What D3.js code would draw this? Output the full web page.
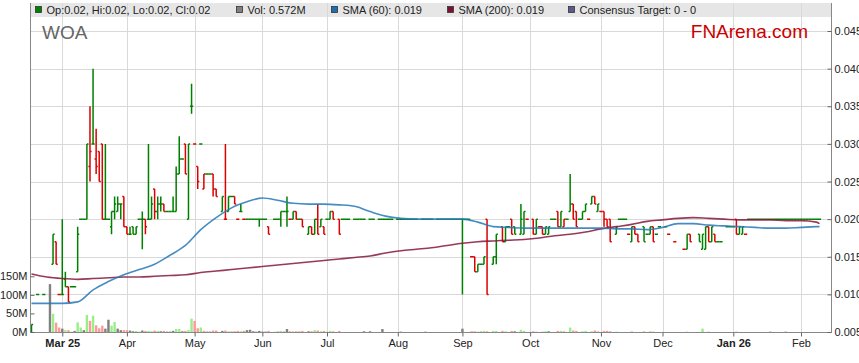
<!DOCTYPE html>
<html>
<head>
<meta charset="utf-8">
<script src="https://cdnjs.cloudflare.com/ajax/libs/d3/7.8.5/d3.min.js"></script>
<style>
  body { margin: 0; background: #fff; }
  svg { display: block; font-family: "Liberation Sans", Arial, sans-serif; }
</style>
</head>
<body>
<div id="chart"></div>
<script>
var svgWidth = 859;
var svgHeight = 363;
var plot = {left: 31, right: 831, top: 3, bottom: 332};

// day = weekday number counted from Mon 17 Feb 2025
// [day, open, high, low, close]
var ohlc = [
  [0,.005,.006,.005,.006],[2,.010,.010,.010,.010],[4,.010,.010,.010,.010],
  [7,.014,.018,.014,.018],[8,.017,.017,.014,.014],[9,.010,.010,.010,.010],
  [10,.010,.020,.010,.010],[11,.012,.013,.011,.011],[12,.011,.011,.009,.009],
  [13,.011,.011,.011,.011],[14,.011,.011,.011,.011],[15,.013,.019,.013,.018],
  [16,.020,.020,.020,.020],[17,.020,.020,.020,.020],[18,.020,.030,.020,.030],
  [19,.027,.035,.025,.029],[20,.030,.040,.030,.030],[21,.028,.032,.026,.027],
  [22,.029,.029,.025,.025],[23,.030,.030,.020,.020],[24,.020,.030,.020,.020],
  [25,.020,.020,.020,.020],[26,.019,.021,.018,.021],[27,.021,.023,.020,.022],
  [28,.021,.023,.021,.022],[29,.022,.022,.020,.022],[30,.023,.023,.019,.019],
  [31,.019,.019,.018,.018],[32,.018,.019,.018,.018],[33,.019,.019,.018,.018],
  [34,.018,.019,.018,.019],[35,.020,.020,.020,.020],[36,.020,.021,.016,.020],
  [37,.020,.020,.018,.019],[38,.020,.030,.020,.020],[39,.020,.023,.020,.022],
  [40,.024,.024,.020,.021],[41,.021,.023,.020,.022],[42,.022,.023,.021,.022],
  [43,.022,.022,.021,.021],[44,.021,.021,.021,.021],[45,.021,.021,.021,.021],
  [46,.021,.023,.021,.021],[47,.021,.027,.021,.026],[48,.026,.031,.026,.028],
  [49,.028,.028,.028,.028],[50,.030,.030,.026,.026],[51,.020,.030,.020,.030],
  [52,.035,.038,.034,.035],[53,.030,.030,.030,.030],[54,.027,.027,.024,.025],
  [55,.030,.030,.030,.030],[56,.024,.026,.024,.026],[57,.026,.026,.026,.026],
  [58,.026,.026,.026,.026],[59,.026,.026,.023,.024],[60,.024,.024,.023,.023],
  [62,.021,.023,.021,.023],[63,.020,.030,.020,.020],[64,.021,.023,.021,.023],
  [65,.023,.023,.023,.023],[66,.023,.023,.022,.022],[67,.020,.020,.020,.020],
  [68,.021,.022,.021,.021],[69,.020,.020,.020,.020],[70,.020,.020,.020,.020],
  [71,.020,.020,.020,.020],[72,.020,.020,.020,.020],[73,.020,.020,.020,.020],
  [74,.020,.020,.019,.020],[75,.020,.020,.020,.020],[76,.020,.020,.020,.020],
  [77,.019,.019,.018,.018],[79,.020,.020,.020,.020],[80,.020,.020,.020,.020],
  [81,.020,.021,.019,.021],[82,.021,.021,.021,.021],[83,.021,.023,.019,.021],
  [84,.020,.020,.020,.020],[85,.020,.021,.020,.021],[86,.021,.021,.020,.020],
  [87,.020,.020,.020,.020],[88,.020,.020,.019,.019],[90,.018,.019,.018,.019],
  [91,.019,.019,.018,.018],[92,.018,.020,.018,.020],[93,.020,.022,.018,.018],
  [94,.019,.020,.019,.020],[95,.019,.019,.018,.018],[96,.020,.020,.020,.020],
  [97,.020,.021,.020,.021],[98,.021,.021,.020,.020],[100,.020,.020,.018,.018],
  [101,.020,.020,.020,.020],[102,.020,.020,.020,.020],[103,.020,.020,.020,.020],
  [105,.020,.020,.020,.020],[106,.020,.020,.020,.020],[107,.020,.020,.020,.020],
  [108,.020,.020,.020,.020],[110,.020,.020,.020,.020],[111,.020,.020,.020,.020],
  [113,.020,.020,.020,.020],[114,.020,.020,.020,.020],[115,.020,.020,.020,.020],
  [116,.020,.020,.020,.020],[117,.020,.020,.020,.020],[119,.020,.020,.020,.020],
  [120,.020,.020,.020,.020],[121,.020,.020,.020,.020],[122,.020,.020,.020,.020],
  [123,.020,.020,.020,.020],[124,.020,.020,.020,.020],[125,.020,.020,.020,.020],
  [127,.020,.020,.020,.020],[128,.020,.020,.020,.020],[129,.020,.020,.020,.020],
  [130,.020,.020,.020,.020],[132,.020,.020,.020,.020],[133,.020,.020,.020,.020],
  [134,.020,.020,.020,.020],[135,.020,.020,.020,.020],[136,.020,.020,.020,.020],
  [137,.020,.020,.020,.020],[138,.020,.020,.020,.020],[139,.020,.020,.020,.020],
  [140,.020,.020,.010,.020],[141,.020,.020,.020,.020],[142,.020,.020,.020,.020],
  [143,.015,.015,.015,.015],[144,.015,.015,.013,.013],[145,.013,.014,.013,.014],
  [146,.014,.014,.014,.014],[147,.014,.015,.014,.015],[148,.020,.020,.010,.010],
  [150,.014,.015,.014,.015],[151,.015,.018,.014,.018],[153,.019,.019,.017,.017],
  [154,.017,.019,.017,.019],[155,.019,.019,.019,.019],[156,.020,.020,.018,.018],
  [157,.019,.019,.018,.018],[159,.018,.022,.018,.020],[160,.018,.021,.018,.021],
  [161,.020,.020,.020,.020],[163,.020,.020,.018,.018],[164,.018,.020,.018,.020],
  [165,.019,.019,.019,.019],[166,.019,.019,.018,.018],[167,.018,.019,.018,.019],
  [168,.018,.019,.018,.019],[169,.020,.020,.020,.020],[170,.020,.020,.020,.020],
  [171,.021,.021,.019,.019],[172,.019,.021,.019,.021],[173,.019,.020,.019,.020],
  [174,.020,.020,.020,.020],[175,.021,.026,.021,.022],[176,.022,.022,.020,.020],
  [177,.021,.021,.019,.019],[178,.020,.020,.020,.020],[179,.020,.021,.020,.021],
  [180,.021,.022,.021,.022],[181,.020,.020,.020,.020],[182,.022,.023,.022,.023],
  [183,.023,.023,.022,.022],[184,.021,.022,.021,.022],[185,.021,.021,.021,.021],
  [186,.021,.021,.019,.020],[187,.020,.020,.019,.019],[188,.020,.020,.017,.017],
  [190,.018,.019,.018,.019],[191,.020,.020,.020,.020],[192,.020,.020,.020,.020],
  [193,.020,.020,.020,.020],[194,.018,.018,.018,.018],[195,.017,.019,.017,.019],
  [196,.019,.019,.018,.018],[197,.018,.018,.017,.017],[199,.019,.019,.017,.017],
  [200,.018,.018,.018,.018],[201,.018,.019,.018,.019],[202,.019,.019,.017,.017],
  [203,.018,.018,.018,.018],[204,.019,.019,.019,.019],[206,.019,.019,.019,.019],
  [207,.018,.018,.018,.018],[209,.017,.017,.017,.017],[212,.016,.016,.016,.016],
  [213,.016,.018,.016,.018],[214,.018,.018,.017,.017],[217,.018,.018,.017,.017],
  [218,.016,.018,.016,.018],[219,.016,.019,.016,.019],[220,.019,.019,.017,.017],
  [221,.017,.019,.017,.019],[222,.018,.018,.017,.017],[223,.017,.017,.017,.017],
  [224,.017,.017,.017,.017],[226,.019,.019,.019,.019],[227,.019,.019,.019,.019],
  [228,.019,.019,.019,.019],[229,.020,.020,.018,.018],[230,.018,.019,.018,.019],
  [231,.018,.019,.018,.019],[232,.018,.018,.018,.018],[233,.020,.020,.020,.020],
  [234,.020,.020,.020,.020],[235,.020,.020,.020,.020],[236,.020,.020,.020,.020],
  [237,.020,.020,.020,.020],[238,.020,.020,.020,.020],[239,.020,.020,.020,.020],
  [240,.020,.020,.020,.020],[241,.020,.020,.020,.020],[242,.020,.020,.020,.020],
  [243,.020,.020,.020,.020],[244,.020,.020,.020,.020],[245,.020,.020,.020,.020],
  [246,.020,.020,.020,.020],[247,.020,.020,.020,.020],[248,.020,.020,.020,.020],
  [249,.020,.020,.020,.020],[250,.020,.020,.020,.020],[251,.020,.020,.020,.020],
  [252,.020,.020,.020,.020],[253,.020,.020,.020,.020],[254,.020,.020,.020,.020],
  [255,.020,.020,.020,.020],[256,.020,.020,.020,.020]
];

// [day, volume in millions]
var volume = [
  [0,.5],[6,129],[7,49],[8,25],[9,12],[10,9],[11,5],[12,5],[13,1],[14,3],[15,26],
  [16,12],[17,5],[18,46],[19,30],[20,44],[21,18],[22,10],[23,17],[24,9],[25,33],
  [26,17],[27,27],[28,9],[29,5],[30,5],[31,5],[32,4],[33,2],[34,3],[35,1],[36,4],
  [37,3],[38,3],[39,2],[40,4],[41,3],[42,2],[43,3],[44,1],[45,1],[46,3],[47,8],
  [48,8],[49,2],[50,3],[51,5],[52,36],[53,30],[54,10],[55,12],[56,3],[57,1],[58,1],
  [59,4],[60,4],[62,3],[63,4],[64,2],[65,1],[66,2],[67,3],[68,2],[69,3],[70,5],
  [71,6],[72,2],[73,1],[74,3],[75,1],[76,1],[77,3],[79,1],[80,1],[81,3],[82,1],
  [83,8],[84,2],[85,2],[86,2],[87,1],[88,3],[90,2],[91,2],[92,5],[93,4],[94,2],
  [95,3],[96,1],[97,3],[98,2],[100,3],[108,2],[110,2],[114,8],[120,1],[128,1],
  [140,9],[143,2],[144,2],[145,1],[146,1],[147,3],[148,2],[150,3],[151,3],[153,3],
  [154,2],[156,3],[157,2],[159,6],[160,3],[163,2],[164,1],[166,1],[167,2],[168,2],
  [171,3],[172,3],[173,2],[175,12],[176,4],[177,3],[179,2],[180,3],[182,2],[183,4],
  [184,1],[186,3],[187,3],[188,2],[190,1],[195,2],[199,1],[201,2],[202,1],[213,1],
  [218,9],[220,1],[229,1],[240,1],[245,1]
];

var smaDays = [0,5,10,15,20,25,30,35,40,45,50,55,60,65,70,75,80,85,90,95,100,105,110,
  115,120,125,130,135,140,145,150,155,160,165,170,175,180,185,190,195,200,205,210,215,
  220,225,230,235,240,245,250,255,256];
var sma60 = [.0088,.0088,.0088,.0090,.0106,.0117,.0126,.0133,.0140,.0152,.0165,.0186,
  .0202,.0215,.0223,.0228,.0225,.0221,.0220,.0220,.0219,.0217,.0210,.0204,.0201,.0200,
  .0200,.0200,.0200,.0196,.0190,.0189,.0188,.0188,.0188,.0188,.0188,.0188,.0187,.0187,
  .0186,.0189,.0194,.0194,.0192,.0191,.0190,.0189,.0188,.0188,.0189,.0190,.0190];
var sma200 = [.0127,.0123,.0121,.0120,.0121,.0122,.0123,.0123,.0124,.0125,.0126,.0129,
  .0131,.0133,.0135,.0137,.0139,.0141,.0143,.0145,.0147,.0149,.0151,.0155,.0158,.0160,
  .0162,.0165,.0168,.0170,.0171,.0172,.0173,.0175,.0178,.0180,.0183,.0187,.0190,.0193,
  .0197,.0199,.0201,.0202,.0201,.0200,.0199,.0199,.0199,.0198,.0198,.0196,.0194];

var monthDays = [10, 31, 53, 75, 96, 119, 140, 162, 185, 205, 228, 250];
var monthLabels = ["Mar 25", "Apr", "May", "Jun", "Jul", "Aug", "Sep", "Oct", "Nov", "Dec", "Jan 26", "Feb"];
var priceTicks = [0.005, 0.010, 0.015, 0.020, 0.025, 0.030, 0.035, 0.040, 0.045];
var volumeTicks = [0, 50, 100, 150];

var legendLabels = ["Op:0.02, Hi:0.02, Lo:0.02, Cl:0.02", "Vol: 0.572M", "SMA (60): 0.019",
  "SMA (200): 0.019", "Consensus Target: 0 - 0"];
var legendColors = ["#008000", "#808080", "#1f6fae", "#7d1033", "#5a5a8c"];
var legendX = [35, 236, 331, 447, 568];

var svg = d3.select("#chart")
  .append("svg")
  .attr("width", svgWidth)
  .attr("height", svgHeight);

var x = d3.scaleLinear().domain([0, 260]).range([31.5, 831.8]);
var yPrice = d3.scaleLinear().domain([0.005, 0.045]).range([332, 31]);
var yVol = d3.scaleLinear().domain([0, 150]).range([332, 276.3]);

svg.append("defs").append("clipPath")
  .attr("id", "plotClip")
  .append("rect")
  .attr("x", plot.left)
  .attr("y", plot.top)
  .attr("width", plot.right - plot.left)
  .attr("height", plot.bottom - plot.top);

// legend strip background
svg.append("rect")
  .attr("x", plot.left)
  .attr("y", plot.top)
  .attr("width", plot.right - plot.left)
  .attr("height", 14)
  .attr("fill", "#e6e6e6");

// grid
var grid = svg.append("g");
grid.selectAll(".hgrid")
  .data(priceTicks.slice(1))
  .enter()
  .append("line")
  .attr("x1", plot.left)
  .attr("x2", plot.right)
  .attr("y1", d => Math.round(yPrice(d)) + 0.5)
  .attr("y2", d => Math.round(yPrice(d)) + 0.5)
  .attr("stroke", "#d9d9d9");
grid.selectAll(".vgrid")
  .data(monthDays)
  .enter()
  .append("line")
  .attr("x1", d => Math.round(x(d)) + 0.5)
  .attr("x2", d => Math.round(x(d)) + 0.5)
  .attr("y1", plot.top)
  .attr("y2", plot.bottom)
  .attr("stroke", "#d9d9d9");

// legend
var legend = svg.append("g");
legendLabels.forEach(function(label, k) {
  legend.append("rect")
    .attr("x", legendX[k] + 0.5)
    .attr("y", 6.5)
    .attr("width", 6)
    .attr("height", 6)
    .attr("fill", legendColors[k])
    .attr("stroke", "#333")
    .attr("stroke-width", 0.8);
  legend.append("text")
    .attr("x", legendX[k] + 11.5)
    .attr("y", 14)
    .attr("font-size", "11px")
    .attr("fill", "#222")
    .text(label);
});

// color by close vs previous close
var closeByDay = {};
var prevClose = null;
ohlc.forEach(function(d) {
  d.dir = prevClose === null ? 1 : (d[4] > prevClose ? 1 : (d[4] < prevClose ? -1 : 0));
  prevClose = d[4];
  closeByDay[d[0]] = d;
});

var chartGroup = svg.append("g").attr("clip-path", "url(#plotClip)");

// volume bars
chartGroup.selectAll(".vol")
  .data(volume)
  .enter()
  .append("rect")
  .attr("x", d => x(d[0]) - 1.2)
  .attr("width", 2.4)
  .attr("y", d => yVol(d[1]))
  .attr("height", d => yVol(0) - yVol(d[1]))
  .attr("fill", function(d) {
    var bar = closeByDay[d[0]];
    if (!bar || bar.dir === 0) return "#808080";
    return bar.dir > 0 ? "#99ee88" : "#ff9999";
  });

// price bars
chartGroup.selectAll(".bar")
  .data(ohlc)
  .enter()
  .append("path")
  .attr("d", function(d) {
    var cx = x(d[0]);
    return "M" + cx + "," + yPrice(d[2]) + "V" + yPrice(d[3]) +
      "M" + (cx - 1.6) + "," + yPrice(d[1]) + "H" + cx +
      "M" + cx + "," + yPrice(d[4]) + "H" + (cx + 1.6);
  })
  .attr("fill", "none")
  .attr("stroke", d => d.dir >= 0 ? "#008000" : "#dd0000")
  .attr("stroke-width", 1.5);

// moving averages
var smaLine = function(values) {
  return d3.line()
    .x((d, k) => x(smaDays[k]))
    .y(d => yPrice(d))
    .curve(d3.curveMonotoneX)(values);
};
chartGroup.append("path")
  .attr("d", smaLine(sma200))
  .attr("fill", "none")
  .attr("stroke", "#85173d")
  .attr("stroke-opacity", 0.85)
  .attr("stroke-width", 1.6);
chartGroup.append("path")
  .attr("d", smaLine(sma60))
  .attr("fill", "none")
  .attr("stroke", "#2478b8")
  .attr("stroke-opacity", 0.85)
  .attr("stroke-width", 1.6);

// frame
svg.append("path")
  .attr("d", "M" + (plot.left - 0.5) + "," + plot.top + "V" + (plot.bottom + 0.5) +
    "H" + (plot.right + 0.5) + "V" + plot.top)
  .attr("fill", "none")
  .attr("stroke", "#888")
  .attr("stroke-width", 1);

// right price axis
var rightAxis = d3.axisRight(yPrice)
  .tickValues(priceTicks)
  .tickFormat(d3.format(".3f"))
  .tickSizeInner(-4)
  .tickSizeOuter(0)
  .tickPadding(3);
var ra = svg.append("g")
  .attr("transform", `translate(${plot.right + 0.5}, 0)`)
  .call(rightAxis);
ra.select(".domain").remove();

// left volume axis
var leftAxis = d3.axisLeft(yVol)
  .tickValues(volumeTicks)
  .tickFormat(d => d + "M")
  .tickSizeInner(-4)
  .tickSizeOuter(0)
  .tickPadding(3);
var la = svg.append("g")
  .attr("transform", `translate(${plot.left - 0.5}, 0)`)
  .call(leftAxis);
la.select(".domain").remove();

// bottom month axis
var bottomAxis = d3.axisBottom(x)
  .tickValues(monthDays)
  .tickFormat((d, k) => monthLabels[k])
  .tickSizeInner(4)
  .tickSizeOuter(0)
  .tickPadding(3);
var ba = svg.append("g")
  .attr("transform", `translate(0, ${plot.bottom + 0.5})`)
  .call(bottomAxis);
ba.select(".domain").remove();
ba.selectAll("text")
  .attr("font-weight", d => /\d/.test(monthLabels[monthDays.indexOf(d)]) ? "bold" : "normal");

svg.selectAll(".tick text")
  .attr("font-size", "11px")
  .attr("font-family", "'Liberation Sans', Arial, sans-serif")
  .attr("fill", "#222");
svg.selectAll(".tick line").attr("stroke", "#666");

// titles
svg.append("text")
  .attr("x", 42)
  .attr("y", 39)
  .attr("font-size", "19px")
  .attr("fill", "#666")
  .text("WOA");
svg.append("text")
  .attr("x", 808)
  .attr("y", 38)
  .attr("text-anchor", "end")
  .attr("font-size", "19px")
  .attr("fill", "#cc0000")
  .text("FNArena.com");
</script>
</body>
</html>
